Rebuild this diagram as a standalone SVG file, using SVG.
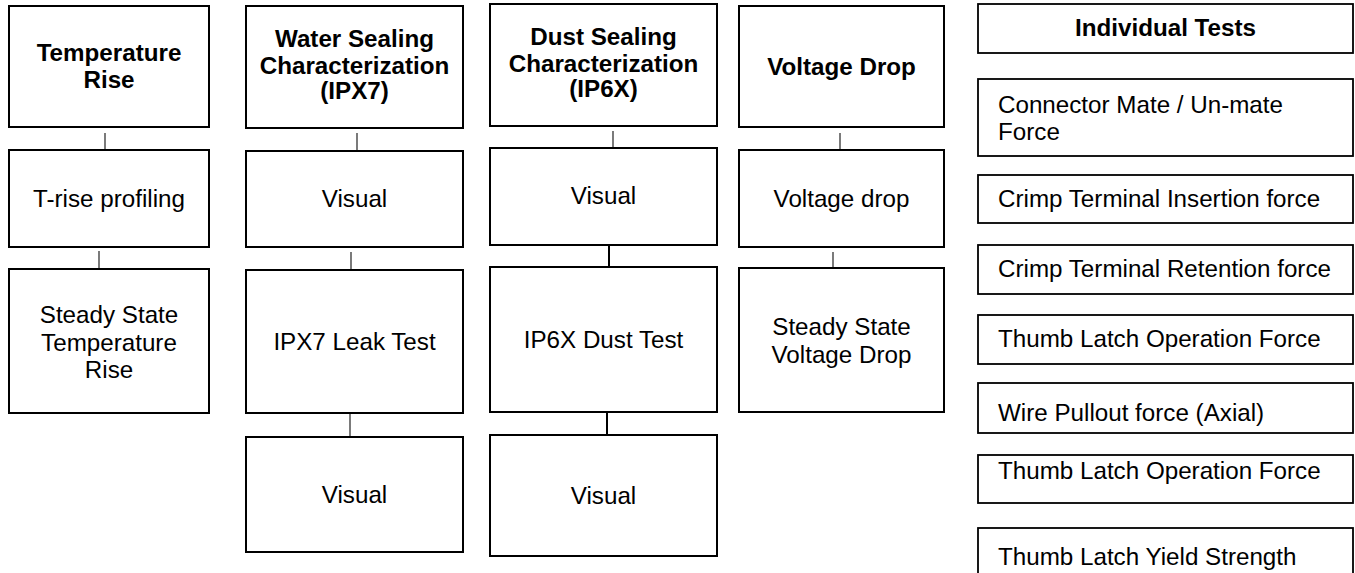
<svg xmlns="http://www.w3.org/2000/svg" width="1355" height="573" viewBox="0 0 1355 573">
<style>
.box{fill:#fff;stroke:#000;stroke-width:2}
.box5{fill:#fff;stroke:#000;stroke-width:1.8}
.t{font-family:"Liberation Sans",Arial,sans-serif;font-size:24.2px;fill:#000;text-anchor:middle}
.b{font-weight:bold}
.l{text-anchor:start}
.c{stroke:#333;stroke-width:1.3;fill:none}
.ct{stroke:#000;stroke-width:2;fill:none}
</style>
<rect width="1355" height="573" fill="#fff"/>
<g id="connectors">
<line class="c" x1="105" y1="133" x2="105" y2="150"/>
<line class="c" x1="99" y1="251" x2="99" y2="269"/>
<line class="c" x1="357" y1="133" x2="357" y2="151"/>
<line class="c" x1="351" y1="252" x2="351" y2="270"/>
<line class="c" x1="350" y1="413" x2="350" y2="437"/>
<line class="c" x1="613" y1="131" x2="613" y2="148"/>
<line class="ct" x1="609" y1="245" x2="609" y2="267"/>
<line class="ct" x1="607" y1="412" x2="607" y2="435"/>
<line class="c" x1="840" y1="133" x2="840" y2="150"/>
<line class="c" x1="833" y1="252" x2="833" y2="268"/>
</g>
<g id="temp-rise">
<rect class="box" x="9" y="6" width="200" height="121"/>
<text class="t b" x="109" y="61">Temperature</text>
<text class="t b" x="109" y="88">Rise</text>
</g>
<g id="t-rise-profiling">
<rect class="box" x="9" y="150" width="200" height="97"/>
<text class="t" x="109" y="207">T-rise profiling</text>
</g>
<g id="steady-temp">
<rect class="box" x="9" y="269" width="200" height="144"/>
<text class="t" x="109" y="323">Steady State</text>
<text class="t" x="109" y="351">Temperature</text>
<text class="t" x="109" y="378">Rise</text>
</g>
<g id="water-sealing">
<rect class="box" x="246" y="6" width="217" height="122"/>
<text class="t b" x="354.5" y="47">Water Sealing</text>
<text class="t b" x="354.5" y="74">Characterization</text>
<text class="t b" x="354.5" y="99">(IPX7)</text>
</g>
<g id="water-visual-1">
<rect class="box" x="246" y="151" width="217" height="96"/>
<text class="t" x="354.5" y="207">Visual</text>
</g>
<g id="ipx7-leak">
<rect class="box" x="246" y="270" width="217" height="143"/>
<text class="t" x="354.5" y="350">IPX7 Leak Test</text>
</g>
<g id="water-visual-2">
<rect class="box" x="246" y="437" width="217" height="115"/>
<text class="t" x="354.5" y="503">Visual</text>
</g>
<g id="dust-sealing">
<rect class="box" x="490" y="4" width="227" height="122"/>
<text class="t b" x="603.5" y="45">Dust Sealing</text>
<text class="t b" x="603.5" y="72">Characterization</text>
<text class="t b" x="603.5" y="97">(IP6X)</text>
</g>
<g id="dust-visual-1">
<rect class="box" x="490" y="148" width="227" height="97"/>
<text class="t" x="603.5" y="204">Visual</text>
</g>
<g id="ip6x-dust">
<rect class="box" x="490" y="267" width="227" height="145"/>
<text class="t" x="603.5" y="348">IP6X Dust Test</text>
</g>
<g id="dust-visual-2">
<rect class="box" x="490" y="435" width="227" height="121"/>
<text class="t" x="603.5" y="504">Visual</text>
</g>
<g id="voltage-drop-head">
<rect class="box" x="739" y="6" width="205" height="121"/>
<text class="t b" x="841.5" y="75">Voltage Drop</text>
</g>
<g id="voltage-drop">
<rect class="box" x="739" y="150" width="205" height="97"/>
<text class="t" x="841.5" y="207">Voltage drop</text>
</g>
<g id="steady-voltage">
<rect class="box" x="739" y="268" width="205" height="144"/>
<text class="t" x="841.5" y="335">Steady State</text>
<text class="t" x="841.5" y="363">Voltage Drop</text>
</g>
<g id="individual-tests">
<rect class="box5" x="978" y="4" width="375" height="49"/>
<text class="t b" x="1165.5" y="36">Individual Tests</text>
</g>
<g id="mate-unmate">
<rect class="box5" x="978" y="79" width="375" height="77"/>
<text class="t l" x="998" y="113">Connector Mate / Un-mate</text>
<text class="t l" x="998" y="140">Force</text>
</g>
<g id="crimp-insertion">
<rect class="box5" x="978" y="175" width="375" height="48"/>
<text class="t l" x="998" y="207">Crimp Terminal Insertion force</text>
</g>
<g id="crimp-retention">
<rect class="box5" x="978" y="245" width="375" height="49"/>
<text class="t l" x="998" y="277">Crimp Terminal Retention force</text>
</g>
<g id="thumb-latch-op-1">
<rect class="box5" x="978" y="315" width="375" height="49"/>
<text class="t l" x="998" y="347">Thumb Latch Operation Force</text>
</g>
<g id="wire-pullout">
<rect class="box5" x="978" y="383" width="375" height="50"/>
<text class="t l" x="998" y="421">Wire Pullout force (Axial)</text>
</g>
<g id="thumb-latch-op-2">
<rect class="box5" x="978" y="455" width="375" height="48"/>
<text class="t l" x="998" y="479">Thumb Latch Operation Force</text>
</g>
<g id="thumb-latch-yield">
<rect class="box5" x="978" y="528" width="375" height="60"/>
<text class="t l" x="998" y="565">Thumb Latch Yield Strength</text>
</g>
</svg>
